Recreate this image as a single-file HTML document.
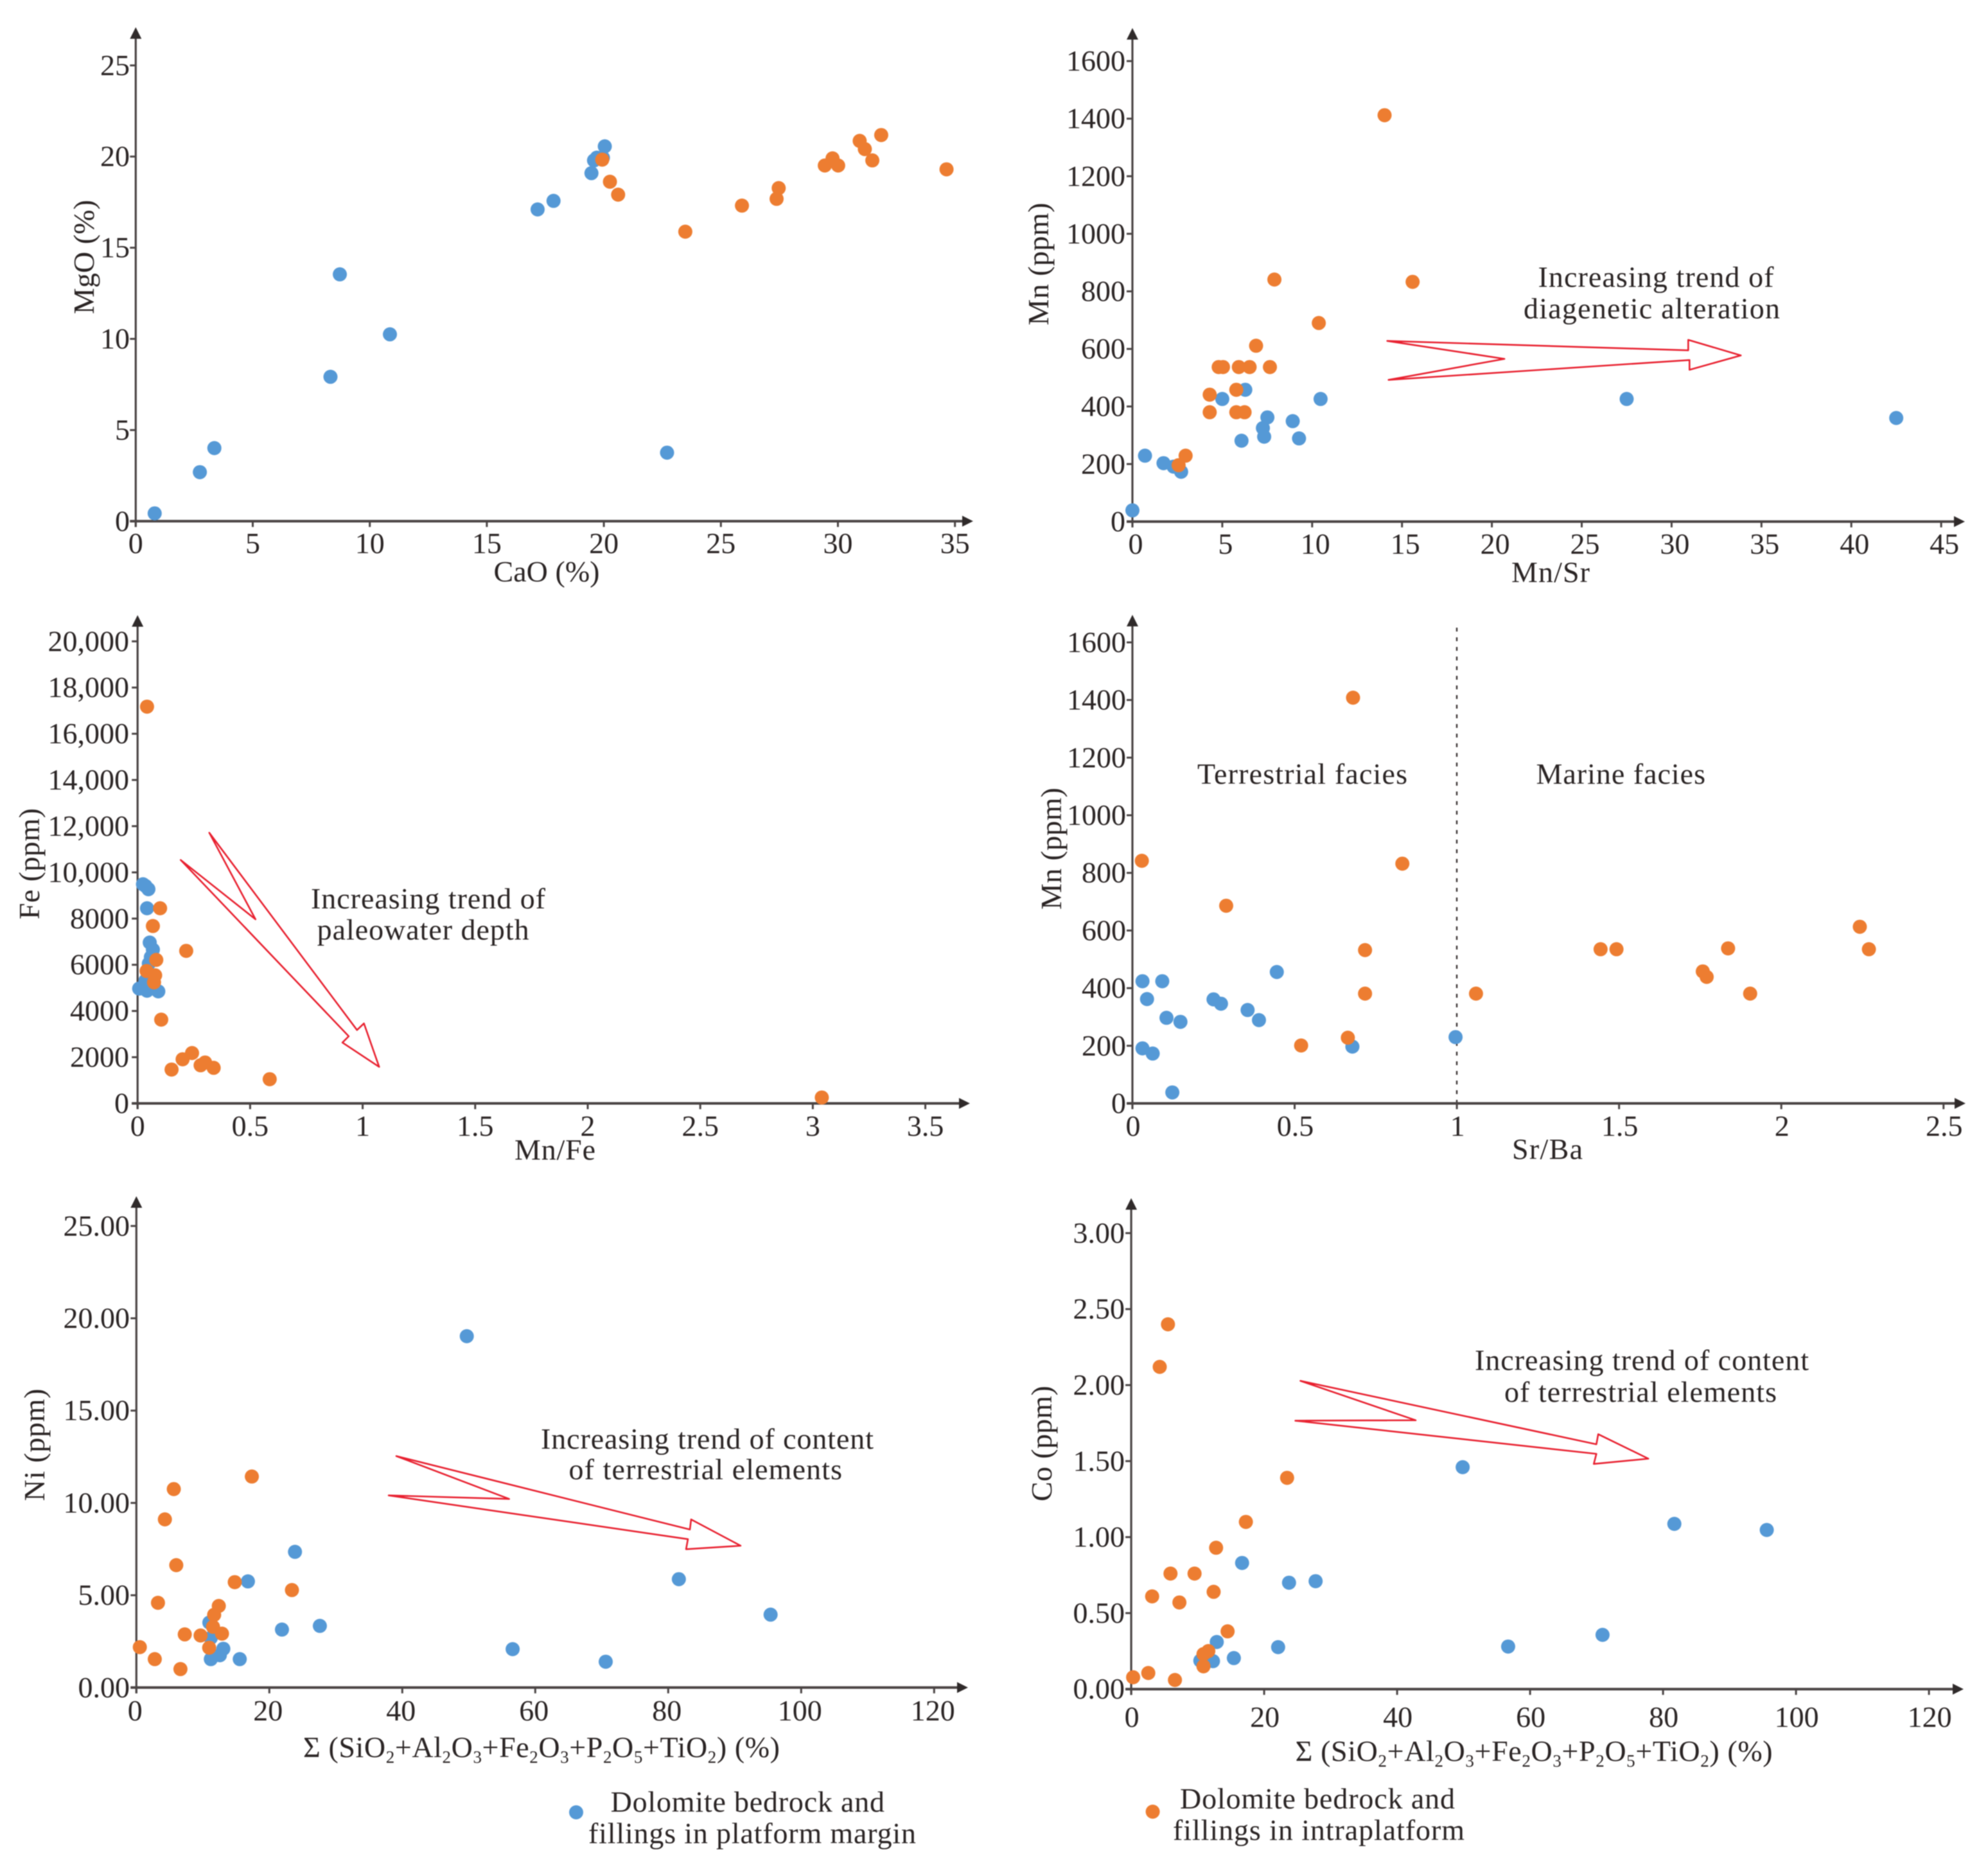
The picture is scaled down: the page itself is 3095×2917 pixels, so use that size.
<!DOCTYPE html>
<html lang="en">
<head>
<meta charset="utf-8">
<title>Geochemical cross-plots of dolomite bedrock and fillings</title>
<style>
  html, body { margin: 0; padding: 0; background: #fff; }
  svg { display: block; }
  text { font-family: "Liberation Serif", serif; fill: #2a2424; font-size: 46px; }
  .trend { fill: #fff; stroke: #e8202f; stroke-width: 2.6; stroke-linejoin: round; }
</style>
</head>
<body>
<svg id="figure" xmlns="http://www.w3.org/2000/svg" width="3095" height="2917" viewBox="0 0 3095 2917" style="filter:blur(0.7px)">
  <rect width="3095" height="2917" fill="#fff"/>

  <g id="panel-1">
    <g class="plot"></g>
    <text x="851" y="905" text-anchor="middle" textLength="165">CaO (%)</text>
    <text transform="translate(146,400) rotate(-90)" text-anchor="middle" textLength="178">MgO (%)</text>
  </g>

  <g id="panel-2">
    <polygon class="trend" points="2159.7,530.7 2628.3,545.3 2628.3,529 2710.2,553.2 2630.3,575.6 2630.3,560.4 2161.7,591.3 2342.2,558.6"/>
    <g class="plot"></g>
    <text x="2414" y="906" text-anchor="middle" textLength="122">Mn/Sr</text>
    <text transform="translate(1632,411) rotate(-90)" text-anchor="middle" textLength="191">Mn (ppm)</text>
    <text x="2394.5" y="446.5" textLength="367">Increasing trend of</text>
    <text x="2372" y="495.6" textLength="399">diagenetic alteration</text>
  </g>

  <g id="panel-3">
    <polygon class="trend" points="325.8,1296.2 555.8,1603.3 566.6,1593 590.3,1660.7 533.1,1622.8 542.9,1613 281.3,1338.6 397.8,1431"/>
    <g class="plot"></g>
    <text x="864" y="1805" text-anchor="middle" textLength="126">Mn/Fe</text>
    <text transform="translate(61,1344.6) rotate(-90)" text-anchor="middle" textLength="173">Fe (ppm)</text>
    <text x="484" y="1414" textLength="365">Increasing trend of</text>
    <text x="493.6" y="1462.6" textLength="330">paleowater depth</text>
  </g>

  <g id="panel-4">
    <line x1="2268" y1="977" x2="2268" y2="1717" stroke="#3a3434" stroke-width="2.4" stroke-dasharray="6 9"/>
    <g class="plot"></g>
    <text x="2409" y="1804" text-anchor="middle" textLength="110">Sr/Ba</text>
    <text transform="translate(1652,1321) rotate(-90)" text-anchor="middle" textLength="190">Mn (ppm)</text>
    <text x="1864" y="1220" textLength="327">Terrestrial facies</text>
    <text x="2391.5" y="1220" textLength="263.5">Marine facies</text>
  </g>

  <g id="panel-5">
    <polygon class="trend" points="617,2266.5 1074,2380.8 1076,2365.1 1153,2406 1068.1,2411.4 1071,2395.8 605.1,2327.7 792.7,2333.2"/>
    <g class="plot"></g>
    <text x="472" y="2735" textLength="742">Σ (SiO<tspan font-size="27" dy="9">2</tspan><tspan dy="-9">+Al</tspan><tspan font-size="27" dy="9">2</tspan><tspan dy="-9">O</tspan><tspan font-size="27" dy="9">3</tspan><tspan dy="-9">+Fe</tspan><tspan font-size="27" dy="9">2</tspan><tspan dy="-9">O</tspan><tspan font-size="27" dy="9">3</tspan><tspan dy="-9">+P</tspan><tspan font-size="27" dy="9">2</tspan><tspan dy="-9">O</tspan><tspan font-size="27" dy="9">5</tspan><tspan dy="-9">+TiO</tspan><tspan font-size="27" dy="9">2</tspan><tspan dy="-9">) (%)</tspan></text>
    <text transform="translate(69,2249) rotate(-90)" text-anchor="middle" textLength="175">Ni (ppm)</text>
    <text x="842" y="2255" textLength="518">Increasing trend of content</text>
    <text x="885.5" y="2302.5" textLength="425.5">of terrestrial elements</text>
  </g>

  <g id="panel-6">
    <polygon class="trend" points="2024.5,2149.4 2485.3,2248.1 2488.2,2232.4 2566.2,2270.5 2481.3,2278.7 2485.3,2263 2016.6,2211.4 2204,2210.7"/>
    <g class="plot"></g>
    <text x="2016.6" y="2741" textLength="743">Σ (SiO<tspan font-size="27" dy="9">2</tspan><tspan dy="-9">+Al</tspan><tspan font-size="27" dy="9">2</tspan><tspan dy="-9">O</tspan><tspan font-size="27" dy="9">3</tspan><tspan dy="-9">+Fe</tspan><tspan font-size="27" dy="9">2</tspan><tspan dy="-9">O</tspan><tspan font-size="27" dy="9">3</tspan><tspan dy="-9">+P</tspan><tspan font-size="27" dy="9">2</tspan><tspan dy="-9">O</tspan><tspan font-size="27" dy="9">5</tspan><tspan dy="-9">+TiO</tspan><tspan font-size="27" dy="9">2</tspan><tspan dy="-9">) (%)</tspan></text>
    <text transform="translate(1637,2247) rotate(-90)" text-anchor="middle" textLength="180">Co (ppm)</text>
    <text x="2296" y="2132.4" textLength="520">Increasing trend of content</text>
    <text x="2342" y="2182" textLength="424">of terrestrial elements</text>
  </g>

  <g>
    <circle cx="897" cy="2821" r="11" fill="#5599d6"/>
    <text x="950.6" y="2820" textLength="426.4">Dolomite bedrock and</text>
    <text x="916" y="2869" textLength="510">fillings in platform margin</text>
  </g>
  <g>
    <circle cx="1794.6" cy="2820" r="11" fill="#ed7d31"/>
    <text x="1837" y="2815" textLength="428">Dolomite bedrock and</text>
    <text x="1826" y="2864" textLength="454">fillings in intraplatform</text>
  </g>
</svg>

<script>
// Panel 1: MgO vs CaO
const p1XTicks = ['0','5','10','15','20','25','30','35'];
const p1YTicks = ['0','5','10','15','20','25'];
const p1BlueX = [0.81,2.74,3.36,8.32,8.72,10.86,17.17,17.85,19.47,19.58,19.7,19.96,20.04,22.7];
const p1BlueY = [0.43,2.69,4.01,7.92,13.54,10.25,17.1,17.57,19.09,19.79,19.94,19.94,20.56,3.76];
const p1OrangeX = [19.93,20.26,20.61,23.48,25.9,27.38,27.47,29.44,29.77,30.01,30.93,31.15,31.47,31.85,34.64];
const p1OrangeY = [19.83,18.62,17.91,15.88,17.31,17.68,18.27,19.51,19.9,19.51,20.86,20.41,19.79,21.18,19.3];

// Panel 2: Mn vs Mn/Sr
const p2XTicks = ['0','5','10','15','20','25','30','35','40','45'];
const p2YTicks = ['0','200','400','600','800','1000','1200','1400','1600'];
const p2BlueX = [0,0.7,1.73,2.29,2.71,5,6.07,6.28,7.26,7.33,7.51,8.92,9.27,10.47,27.5,42.5];
const p2BlueY = [39,229,203,191,173,426,281,458,325,295,362,349,289,426,426,360];
const p2OrangeX = [2.57,2.96,4.3,4.3,4.8,5.04,5.78,5.78,5.92,6.24,6.52,6.88,7.65,7.9,10.37,14.03,15.59];
const p2OrangeY = [196,229,380,441,537,537,458,380,537,380,537,611,537,841,690,1412,833];

// Panel 3: Fe vs Mn/Fe
const p3XTicks = ['0','0.5','1','1.5','2','2.5','3','3.5'];
const p3YTicks = ['0','2000','4000','6000','8000','10,000','12,000','14,000','16,000','18,000','20,000'];
const p3BlueX = [0.024,0.035,0.048,0.042,0.054,0.068,0.059,0.05,0.045,0.035,0.007,0.042,0.092,0.068];
const p3BlueY = [9485,9411,9272,8447,6963,6657,6333,6055,5684,5313,4970,4877,4849,5127];
const p3OrangeX = [0.1,0.068,0.216,0.083,0.04,0.078,0.073,0.105,0.151,0.2,0.242,0.3,0.28,0.338,0.587,0.042,3.04];
const p3OrangeY = [8447,7677,6602,6212,5730,5545,5240,3625,1465,1910,2179,1771,1650,1539,1048,17173,255];

// Panel 4: Mn vs Sr/Ba
const p4XTicks = ['0','0.5','1','1.5','2','2.5'];
const p4YTicks = ['0','200','400','600','800','1000','1200','1400','1600'];
const p4BlueX = [0.031,0.092,0.045,0.445,0.25,0.273,0.105,0.148,0.355,0.39,0.031,0.0625,0.123,0.678,0.996];
const p4BlueY = [424,424,362,456,361,346,297,283,324,289,191,173,38,197,230];
const p4OrangeX = [0.029,0.289,0.68,0.832,0.717,0.717,0.52,0.664,1.059,1.443,1.492,1.836,1.758,1.77,1.904,2.242,2.27];
const p4OrangeY = [842,686,1408,832,532,381,201,228,381,535,535,538,458,439,381,613,535];

// Panel 5: Ni vs sum of terrestrial oxides
const p5XTicks = ['0','20','40','60','80','100','120'];
const p5YTicks = ['0.00','5.00','10.00','15.00','20.00','25.00'];
const p5BlueX = [23.86,16.78,21.9,27.6,10.98,11.2,13.08,12.56,11.2,15.55,49.7,56.6,70.6,81.6,95.4];
const p5BlueY = [7.35,5.75,3.14,3.34,3.52,2.69,2.1,1.75,1.54,1.54,19.03,2.08,1.4,5.87,3.95];
const p5OrangeX = [17.37,5.63,4.29,6,14.8,23.4,3.25,0.52,2.77,6.63,7.28,9.66,12.4,11.7,11.53,12.88,10.95];
const p5OrangeY = [11.43,10.75,9.11,6.63,5.71,5.28,4.59,2.19,1.54,1,2.88,2.82,4.42,3.94,3.29,2.92,2.16];

// Panel 6: Co vs sum of terrestrial oxides
const p6XTicks = ['0','20','40','60','80','100','120'];
const p6YTicks = ['0.00','0.50','1.00','1.50','2.00','2.50','3.00'];
const p6BlueX = [49.86,81.7,95.6,16.68,23.74,27.74,12.87,22.1,15.44,12.3,10.4,56.7,70.9];
const p6BlueY = [1.46,1.087,1.047,0.83,0.7,0.71,0.31,0.276,0.204,0.184,0.187,0.28,0.357];
const p6OrangeX = [5.53,4.29,23.45,17.25,12.77,5.91,9.53,3.15,7.25,12.4,14.5,11.6,10.87,10.87,2.57,0.29,6.58];
const p6OrangeY = [2.4,2.12,1.39,1.1,0.93,0.76,0.76,0.61,0.57,0.64,0.38,0.25,0.23,0.15,0.106,0.078,0.06];

const SVG_NS = 'http://www.w3.org/2000/svg';
const BLUE = '#5599d6';
const ORANGE = '#ed7d31';
const AXIS = '#4a4444';

const panels = [
  { id:'panel-1', xTicks:p1XTicks, yTicks:p1YTicks, blueX:p1BlueX, blueY:p1BlueY, orangeX:p1OrangeX, orangeY:p1OrangeY,
    x0:211.3, y0:811.3, xUnit:36.44, yUnit:28.38, top:42.4, right:1515, xBase:861, yRight:202, xDx:0 },
  { id:'panel-2', xTicks:p2XTicks, yTicks:p2YTicks, blueX:p2BlueX, blueY:p2BlueY, orangeX:p2OrangeX, orangeY:p2OrangeY,
    x0:1763, y0:811.9, xUnit:27.98, yUnit:0.448, top:43.6, right:3059, xBase:862, yRight:1752, xDx:5 },
  { id:'panel-3', xTicks:p3XTicks, yTicks:p3YTicks, blueX:p3BlueX, blueY:p3BlueY, orangeX:p3OrangeX, orangeY:p3OrangeY,
    x0:214.2, y0:1717.5, xUnit:350.4, yUnit:0.03596, top:957.5, right:1510, xBase:1768, yRight:201, xDx:0 },
  { id:'panel-4', xTicks:p4XTicks, yTicks:p4YTicks, blueX:p4BlueX, blueY:p4BlueY, orangeX:p4OrangeX, orangeY:p4OrangeY,
    x0:1763, y0:1717.5, xUnit:505.1, yUnit:0.4485, top:957, right:3060, xBase:1768, yRight:1753, xDx:1 },
  { id:'panel-5', xTicks:p5XTicks, yTicks:p5YTicks, blueX:p5BlueX, blueY:p5BlueY, orangeX:p5OrangeX, orangeY:p5OrangeY,
    x0:212.3, y0:2626.8, xUnit:10.35, yUnit:28.74, top:1862, right:1507, xBase:2678, yRight:202, xDx:-2 },
  { id:'panel-6', xTicks:p6XTicks, yTicks:p6YTicks, blueX:p6BlueX, blueY:p6BlueY, orangeX:p6OrangeX, orangeY:p6OrangeY,
    x0:1761.1, y0:2629.2, xUnit:10.35, yUnit:236.6, top:1865, right:3057, xBase:2688, yRight:1751, xDx:1 }
];

function toNumber(label) {
  return parseFloat(label.replace(/,/g, ''));
}
function scaleX(p, v) {
  return p.x0 + v * p.xUnit;
}
function scaleY(p, v) {
  return p.y0 - v * p.yUnit;
}
function makeLine(x1, y1, x2, y2, width) {
  const el = document.createElementNS(SVG_NS, 'line');
  el.setAttribute('x1', x1);
  el.setAttribute('y1', y1);
  el.setAttribute('x2', x2);
  el.setAttribute('y2', y2);
  el.setAttribute('stroke', AXIS);
  el.setAttribute('stroke-width', width);
  return el;
}
function drawDots(p, group, xs, ys, color, name) {
  xs.forEach(function (xv, i) {
    const dot = document.createElementNS(SVG_NS, 'circle');
    
    
    dot.setAttribute('cx', scaleX(p, xv));
    dot.setAttribute('cy', scaleY(p, ys[i]));
    dot.setAttribute('r', 11);
    dot.setAttribute('fill', color);
    group.appendChild(dot);
  });
}
function drawPanel(p) {
  const group = document.querySelector('#' + p.id + ' .plot');

  p.xTicks.forEach(function (label) {
    const x = scaleX(p, toNumber(label));
    const tick = makeLine(x, p.y0, x, p.y0 + 9, 3);
    
    
    group.appendChild(tick);
    const txt = document.createElementNS(SVG_NS, 'text');
    
    
    txt.setAttribute('x', x + p.xDx);
    txt.setAttribute('y', p.xBase);
    txt.setAttribute('text-anchor', 'middle');
    txt.textContent = label;
    group.appendChild(txt);
  });

  p.yTicks.forEach(function (label) {
    const y = scaleY(p, toNumber(label));
    const tick = makeLine(p.x0 - 9, y, p.x0, y, 3);
    
    
    group.appendChild(tick);
    const txt = document.createElementNS(SVG_NS, 'text');
    
    
    txt.setAttribute('x', p.yRight);
    txt.setAttribute('y', y + 15);
    txt.setAttribute('text-anchor', 'end');
    txt.textContent = label;
    group.appendChild(txt);
  });

  const xAxis = makeLine(p.x0 - 9, p.y0, p.right - 12, p.y0, 4);
  
  
  group.appendChild(xAxis);

  const yAxis = makeLine(p.x0, p.y0 + 9, p.x0, p.top + 12, 3.2);
  
  
  group.appendChild(yAxis);

  const xHead = document.createElementNS(SVG_NS, 'polygon');
  
  
  xHead.setAttribute('points', (p.right - 17) + ',' + (p.y0 - 8.5) + ' ' + p.right + ',' + p.y0 + ' ' + (p.right - 17) + ',' + (p.y0 + 8.5));
  xHead.setAttribute('fill', '#2f2a2a');
  group.appendChild(xHead);

  const yHead = document.createElementNS(SVG_NS, 'polygon');
  
  
  yHead.setAttribute('points', (p.x0 - 9) + ',' + (p.top + 18) + ' ' + p.x0 + ',' + p.top + ' ' + (p.x0 + 9) + ',' + (p.top + 18));
  yHead.setAttribute('fill', '#2f2a2a');
  group.appendChild(yHead);

  drawDots(p, group, p.blueX, p.blueY, BLUE, 'platform-margin-point');
  drawDots(p, group, p.orangeX, p.orangeY, ORANGE, 'intraplatform-point');
}
panels.forEach(drawPanel);
</script>
</body>
</html>
